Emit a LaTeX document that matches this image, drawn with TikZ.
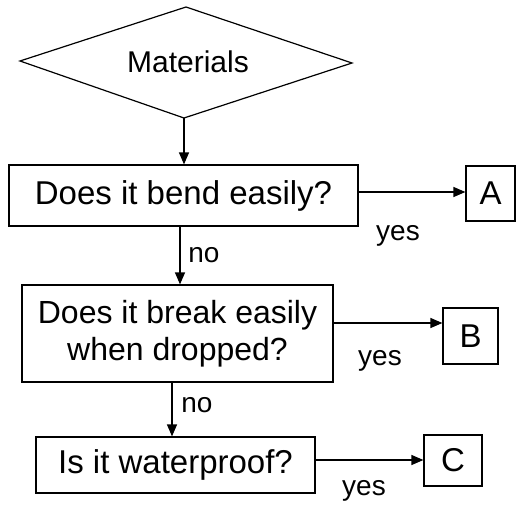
\documentclass[tikz,border=0pt]{standalone}
\usepackage{fontspec}
\setmainfont{Liberation Sans}
\usetikzlibrary{arrows.meta}
\begin{document}
\begin{tikzpicture}[x=1pt,y=-1pt,
  line width=1.2pt,
  box/.style={draw,inner sep=0pt,font=\fontsize{33}{37}\selectfont,align=center},
  lab/.style={inner sep=0pt,font=\fontsize{28}{30}\selectfont},
  arr/.style={-{Triangle[length=12pt,width=10pt]}}]
\useasboundingbox (0,0) rectangle (516,506);
% diamond
\coordinate (dl) at (20,61);
\coordinate (dt) at (186,7);
\coordinate (dr) at (352,63);
\coordinate (db) at (184,118);
\draw (dl) -- (dt) -- (dr) -- (db) -- cycle;
\node[inner sep=0pt,font=\fontsize{30}{34}\selectfont] (m) at (188,62) {Materials};
% boxes
\node[box,minimum width=349pt,minimum height=61pt] (b1) at (183.5,195.5) {Does it bend easily?};
\node[box,minimum width=49pt,minimum height=55pt] (ba) at (490.5,193.5) {A};
\node[box,minimum width=311pt,minimum height=97pt,font=\fontsize{32}{37}\selectfont] (b2) at (177.5,333.5) {Does it break easily\\when dropped?};
\node[box,minimum width=55pt,minimum height=56pt] (bb) at (470.5,336) {B};
\node[box,minimum width=279pt,minimum height=56pt] (b3) at (175.5,465) {Is it waterproof?};
\node[box,minimum width=58pt,minimum height=51pt] (bc) at (453,460.5) {C};
% helper coordinates
\coordinate (y1) at (0,192);
\coordinate (y2) at (0,323);
\coordinate (y3) at (0,460);
\coordinate (x2) at (180,0);
\coordinate (x3) at (172,0);
% arrows
\draw[arr] (db) -- (db |- b1.north);
\draw[arr] (b1.east |- y1) -- (ba.west |- y1);
\draw[arr] (b2.east |- y2) -- (bb.west |- y2);
\draw[arr] (b3.east |- y3) -- (bc.west |- y3);
\draw[arr] (x2 |- b1.south) -- (x2 |- b2.north);
\draw[arr] (x3 |- b2.south) -- (x3 |- b3.north);
% labels
\node[lab] (l1) at (398,236) {yes};
\node[lab] (l2) at (380,361) {yes};
\node[lab] (l3) at (364,491) {yes};
\node[lab] (n1) at (204,255) {no};
\node[lab] (n2) at (197,405) {no};
\end{tikzpicture}
\end{document}
